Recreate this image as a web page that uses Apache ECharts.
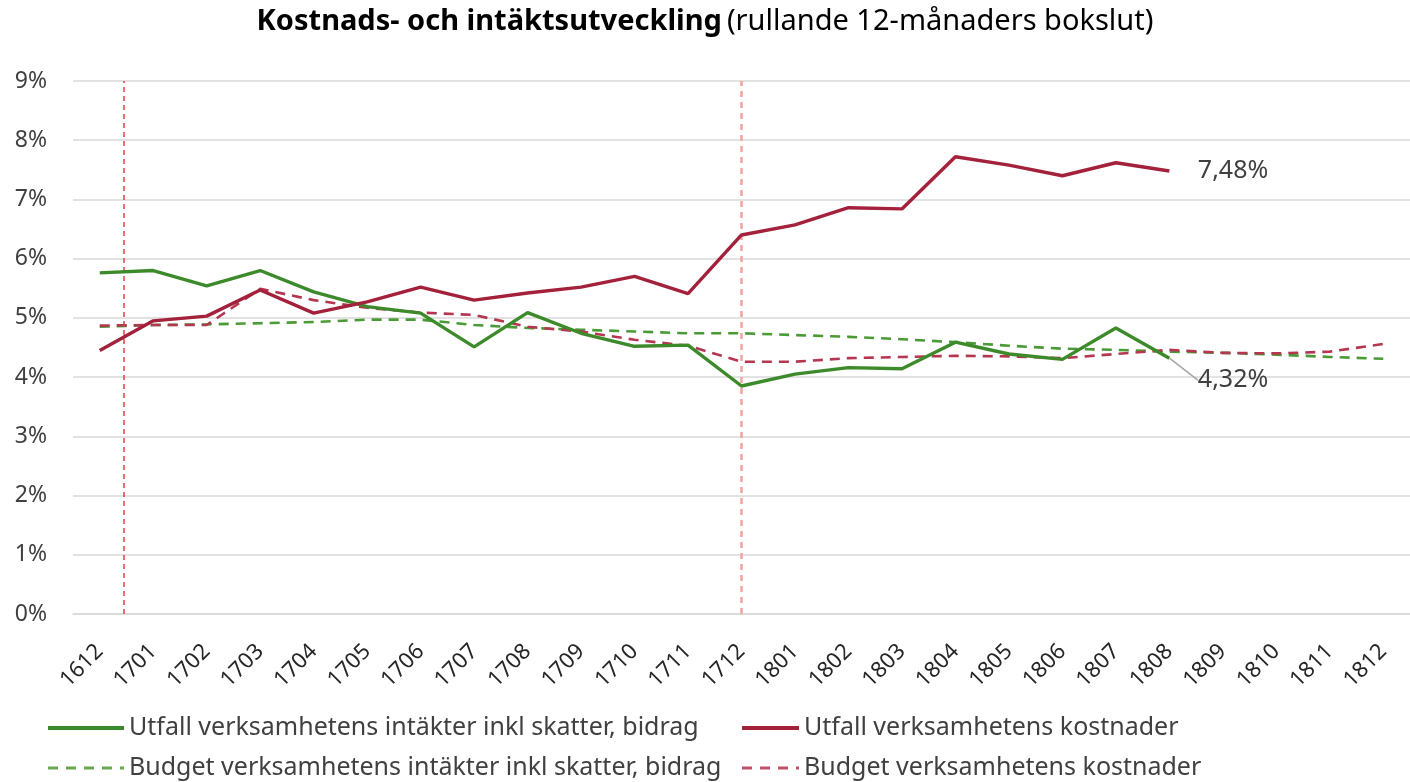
<!DOCTYPE html>
<html>
<head>
<meta charset="utf-8">
<script src="https://cdn.jsdelivr.net/npm/echarts@6/dist/echarts.min.js"></script>
<style>
  html, body { margin: 0; padding: 0; background: #fff; }
  #main { width: 1410px; height: 782px; }
</style>
</head>
<body>
<div id="main"></div>
<script>
// kategorier (ÅÅMM)
var categories = ['1612', '1701', '1702', '1703', '1704', '1705', '1706', '1707', '1708', '1709', '1710', '1711', '1712',
    '1801', '1802', '1803', '1804', '1805', '1806', '1807', '1808', '1809', '1810', '1811', '1812'];

// utfall, procent
var utfallIntakter = [5.76, 5.80, 5.54, 5.80, 5.44, 5.19, 5.08, 4.51, 5.09, 4.74, 4.52, 4.54, 3.85,
    4.05, 4.16, 4.14, 4.59, 4.39, 4.30, 4.83, 4.32];
var utfallKostnader = [4.45, 4.95, 5.03, 5.47, 5.08, 5.27, 5.52, 5.30, 5.42, 5.52, 5.70, 5.41, 6.40,
    6.57, 6.86, 6.84, 7.72, 7.58, 7.40, 7.62, 7.48];

// budget, procent
var budgetIntakter = [4.85, 4.88, 4.89, 4.91, 4.93, 4.97, 4.97, 4.88, 4.83, 4.80, 4.77, 4.74, 4.74,
    4.71, 4.68, 4.64, 4.59, 4.53, 4.48, 4.46, 4.43, 4.41, 4.38, 4.34, 4.31];
var budgetKostnader = [4.87, 4.88, 4.88, 5.49, 5.30, 5.17, 5.09, 5.05, 4.85, 4.77, 4.63, 4.53, 4.26,
    4.26, 4.32, 4.34, 4.36, 4.35, 4.32, 4.39, 4.46, 4.41, 4.40, 4.43, 4.56];

// y-axelns skala
var yMin = 0, yMax = 9, yStep = 1;

// vertikala markeringar (kategoriindex)
var markers = [0.45, 12];

var seriesNames = [
    'Utfall verksamhetens intäkter inkl skatter, bidrag',
    'Budget verksamhetens intäkter inkl skatter, bidrag',
    'Utfall verksamhetens kostnader',
    'Budget verksamhetens kostnader'
];

var FONT = 'Noto Sans';
var GREEN = '#3d8a2b';
var GREEN_B = '#4a9a36';
var RED = '#a3213b';
var RED_B = '#b43650';
var NONE = 'rgba(0,0,0,0)';

// sista punkten får etikett
function lastLabelled(arr) {
    return arr.map(function (v, i) {
        if (i === arr.length - 1) {
            return { value: v, label: { show: true } };
        }
        return v;
    });
}

function fmt(p) {
    return p.value.toFixed(2).replace('.', ',') + '%';
}

var chart = echarts.init(document.getElementById('main'));

var legendText = { fontFamily: FONT, fontSize: 25, lineHeight: 26, color: '#404040' };

var option = {
    backgroundColor: '#fff',
    animation: false,
    title: {
        left: 'center',
        top: 2,
        text: '{b|Kostnads- och intäktsutveckling} {n|(rullande 12-månaders bokslut)}',
        textStyle: {
            rich: {
                b: { fontFamily: FONT, fontSize: 29, fontWeight: 'bold', color: '#000' },
                n: { fontFamily: FONT, fontSize: 29, fontWeight: 'normal', color: '#000' }
            }
        }
    },
    legend: [{
        orient: 'vertical',
        left: 46,
        top: 715,
        padding: 0,
        itemWidth: 76,
        itemHeight: 14,
        itemGap: 14,
        data: [
            { name: seriesNames[0], lineStyle: { width: 4 } },
            { name: seriesNames[1], lineStyle: { width: 3, type: [10, 8], color: '#6aa84f' } }
        ],
        itemStyle: { color: NONE, borderWidth: 0 },
        textStyle: legendText
    }, {
        orient: 'vertical',
        left: 740,
        top: 715,
        padding: 0,
        itemWidth: 57,
        itemHeight: 14,
        itemGap: 14,
        data: [
            { name: seriesNames[2], lineStyle: { width: 4 } },
            { name: seriesNames[3], lineStyle: { width: 3, type: [10, 8], color: '#c0506a' } }
        ],
        itemStyle: { color: NONE, borderWidth: 0 },
        textStyle: legendText
    }],
    grid: {
        left: 73,
        right: 0,
        top: 81,
        bottom: 168
    },
    xAxis: [{
        type: 'category',
        data: categories,
        boundaryGap: true,
        axisLine: { lineStyle: { color: '#d9d9d9', width: 1.5 } },
        axisTick: { show: false },
        axisLabel: {
            rotate: 45,
            interval: 0,
            margin: 34,
            fontFamily: FONT,
            fontSize: 22,
            color: '#262626'
        }
    }, {
        type: 'value',
        min: -0.5,
        max: categories.length - 0.5,
        show: false
    }],
    yAxis: {
        type: 'value',
        min: yMin,
        max: yMax,
        interval: yStep,
        axisLine: { show: false },
        axisTick: { show: false },
        axisLabel: {
            formatter: '{value}%',
            margin: 26,
            fontFamily: FONT,
            fontSize: 23,
            color: '#404040'
        },
        splitLine: { lineStyle: { color: '#d9d9d9', width: 1.5 } }
    },
    series: [{
        name: seriesNames[0],
        type: 'line',
        data: lastLabelled(utfallIntakter),
        symbol: 'circle',
        symbolSize: 1,
        itemStyle: { color: NONE },
        z: 5,
        lineStyle: { color: GREEN, width: 3.4 },
        label: {
            show: false,
            position: 'right',
            distance: 28,
            formatter: fmt,
            fontFamily: FONT,
            fontSize: 25,
            color: '#404040'
        },
        labelLayout: function (p) {
            return p.dataIndex === utfallIntakter.length - 1 ? { dy: 22 } : {};
        },
        labelLine: { show: true, lineStyle: { color: '#a6a6a6', width: 1.5 } }
    }, {
        name: seriesNames[1],
        type: 'line',
        data: budgetIntakter,
        symbol: 'circle',
        symbolSize: 1,
        itemStyle: { color: NONE },
        z: 3,
        lineStyle: { color: GREEN_B, width: 2.6, type: [10, 7] }
    }, {
        name: seriesNames[2],
        type: 'line',
        data: lastLabelled(utfallKostnader),
        symbol: 'circle',
        symbolSize: 1,
        itemStyle: { color: NONE },
        z: 5,
        lineStyle: { color: RED, width: 3.4 },
        label: {
            show: false,
            position: 'right',
            distance: 28,
            formatter: fmt,
            fontFamily: FONT,
            fontSize: 25,
            color: '#404040'
        }
    }, {
        name: seriesNames[3],
        type: 'line',
        data: budgetKostnader,
        symbol: 'circle',
        symbolSize: 1,
        itemStyle: { color: NONE },
        z: 4,
        lineStyle: { color: RED_B, width: 2.6, type: [10, 7] }
    }, {
        name: 'markeringar',
        type: 'line',
        xAxisIndex: 1,
        data: [],
        silent: true,
        markLine: {
            silent: true,
            symbol: 'none',
            label: { show: false },
            data: [{
                xAxis: markers[0],
                lineStyle: { color: '#e0403c', width: 1.5, type: [5, 4] }
            }, {
                xAxis: markers[1],
                lineStyle: { color: '#f2a3a3', width: 2.5, type: [6, 5] }
            }]
        }
    }]
};

chart.setOption(option);
</script>
</body>
</html>
